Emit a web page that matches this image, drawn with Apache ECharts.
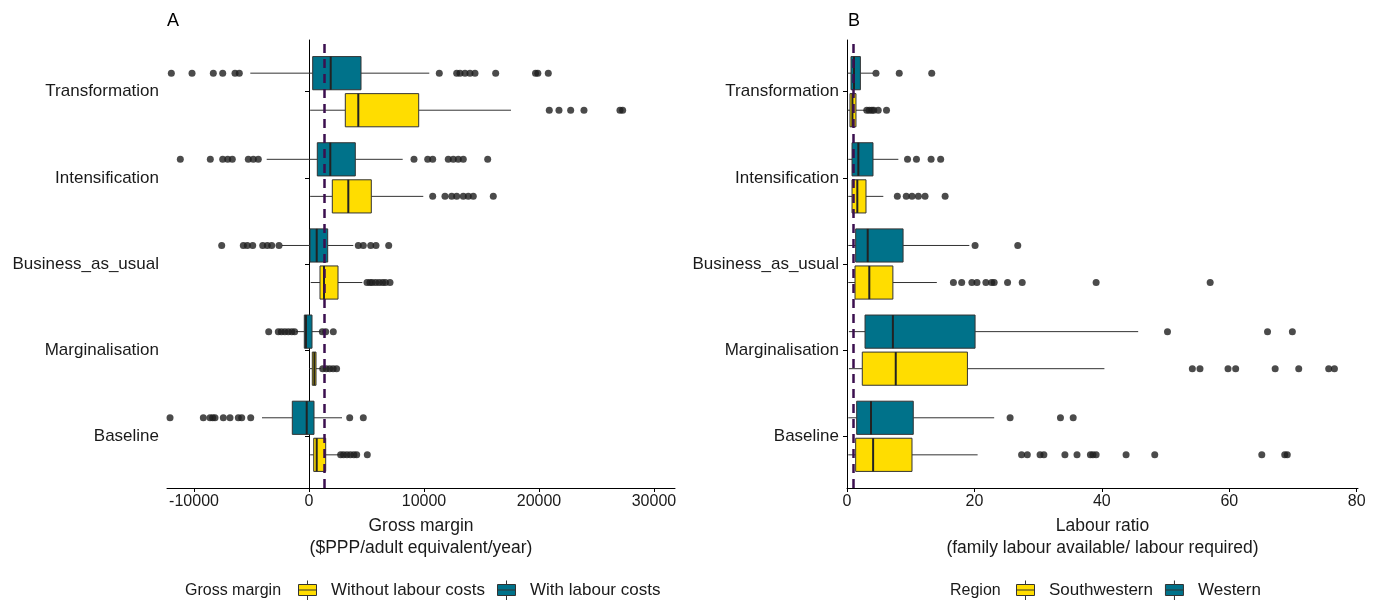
<!DOCTYPE html>
<html>
<head>
<meta charset="utf-8">
<script src="https://cdn.jsdelivr.net/npm/echarts@6/dist/echarts.min.js"></script>
<style>
html,body{margin:0;padding:0;background:#fff;}
#chart{width:1378px;height:600px;}
</style>
</head>
<body>
<div id="chart"></div>
<script>
// ---------- DATA ----------
const categories = ['Baseline', 'Marginalisation', 'Business_as_usual', 'Intensification', 'Transformation'];

const gmTicks = [-10000, 0, 10000, 20000, 30000];
const lrTicks = [0, 20, 40, 60, 80];

// Panel A: Gross margin  [lower whisker, Q1, median, Q3, upper whisker] per category
const gmWithout = [
  [100, 409, 670, 1452, 2696],
  [0, 287, 461, 609, 1043],
  [150, 957, 1304, 2522, 4635],
  [100, 2026, 3418, 5418, 9939],
  [100, 3157, 4287, 9539, 17566]
];
const gmWith = [
  [-4087, -1452, -200, 435, 2870],
  [-1150, -409, -261, 261, 1017],
  [-2350, 87, 670, 1626, 3852],
  [-3679, 722, 1852, 4026, 8148],
  [-5105, 320, 1887, 4522, 10461]
];
const gmWithoutOut = [
  [2750, 3000, 3300, 3600, 3900, 4148, 5070],
  [1191, 1500, 1800, 2100, 2400],
  [5044, 5300, 5500, 5800, 6100, 6400, 6650, 7043],
  [10757, 11826, 12409, 12844, 13418, 13853, 14287, 16027],
  [20897, 21740, 22757, 23914, 27044, 27279]
];
const gmWithOut = [
  [-12087, -9191, -8609, -8374, -8174, -7452, -6870, -6148, -5852, -5070, 3539, 4722],
  [-3505, -2670, -2400, -2100, -1800, -1500, -1250, 1157, 1452, 2113],
  [-7592, -5713, -5365, -4896, -4026, -3626, -3244, -2609, 4287, 4722, 5365, 5826, 6931],
  [-11192, -8583, -7505, -7070, -6670, -5278, -4843, -4409, 9131, 10322, 10757, 12113, 12548, 12983, 13418, 15540],
  [-11974, -10174, -8322, -7505, -6435, -6061, 11331, 12844, 13131, 13566, 14000, 14435, 16235, 19700, 19900, 20810]
];
const gmRef = 1330;

// Panel B: Labour ratio
const lrSouthwestern = [
  [0.2, 1.36, 4.1, 10.2, 20.5],
  [0.3, 2.4, 7.65, 18.9, 40.4],
  [0.2, 1.26, 3.5, 7.2, 14.1],
  [0.2, 0.79, 1.62, 2.98, 5.7],
  [0.1, 0.47, 0.85, 1.41, 3.0]
];
const lrWestern = [
  [0.2, 1.52, 3.77, 10.4, 23.1],
  [0.3, 2.83, 7.2, 20.1, 45.7],
  [0.2, 1.36, 3.25, 8.8, 19.2],
  [0.2, 0.79, 1.78, 4.08, 8.06],
  [0.1, 0.63, 1.1, 2.1, 4.1]
];
const lrSouthwesternOut = [
  [27.4, 28.3, 30.3, 30.9, 34.2, 36.1, 38.2, 38.6, 39.1, 43.8, 48.3, 65.1, 68.7, 69.1],
  [54.2, 55.4, 59.8, 61.0, 67.2, 70.9, 75.6, 76.5],
  [16.7, 18.0, 19.6, 20.4, 21.8, 22.7, 23.1, 25.2, 27.5, 39.1, 57.0],
  [7.9, 9.3, 10.2, 11.2, 12.25, 15.4],
  [3.1, 3.5, 3.9, 4.2, 4.9, 6.2]
];
const lrWesternOut = [
  [25.6, 33.5, 35.5],
  [50.3, 66.0, 69.9],
  [20.1, 26.8],
  [9.5, 10.9, 13.2, 14.7],
  [4.55, 8.2, 13.3]
];
const lrRef = 1;

// ---------- STYLE ----------
const YELLOW = '#FFDD00';
const TEAL = '#00728A';
const EDGE = '#333333';
const TEXT = '#1a1a1a';
const FONT = 'Liberation Sans, Arial, sans-serif';
const OFFSET = 0.215;
const BOX_H = 0.385;

function boxData(stats, off) {
  return stats.map((s, i) => [i + 1 + off].concat(s));
}
function outData(outs, off) {
  const r = [];
  outs.forEach((arr, i) => arr.forEach(v => r.push([v, i + 1 + off])));
  return r;
}
function makeRender(color) {
  return function (params, api) {
    const y = api.value(0);
    const pLo = api.coord([api.value(1), y]);
    const pQ1 = api.coord([api.value(2), y]);
    const pMed = api.coord([api.value(3), y]);
    const pQ3 = api.coord([api.value(4), y]);
    const pHi = api.coord([api.value(5), y]);
    const h = api.size([0, BOX_H])[1];
    const ls = { stroke: EDGE, lineWidth: 1 };
    return {
      type: 'group',
      children: [
        { type: 'line', shape: { x1: pLo[0], y1: pLo[1], x2: pQ1[0], y2: pQ1[1] }, style: ls },
        { type: 'line', shape: { x1: pQ3[0], y1: pQ3[1], x2: pHi[0], y2: pHi[1] }, style: ls },
        { type: 'rect', shape: { x: pQ1[0], y: pQ1[1] - h / 2, width: pQ3[0] - pQ1[0], height: h },
          style: { fill: color, stroke: EDGE, lineWidth: 1 } },
        { type: 'line', shape: { x1: pMed[0], y1: pMed[1] - h / 2, x2: pMed[0], y2: pMed[1] + h / 2 },
          style: { stroke: '#222', lineWidth: 2 } }
      ]
    };
  };
}

const ICON = 'path://M0,4 L18,4 L18,15 L0,15 Z M0,9.5 L18,9.5 M9,0 L9,4 M9,15 L9,20';

function yAxisDef(gi) {
  return {
    type: 'value', gridIndex: gi, min: 0.4, max: 5.6,
    axisLine: { show: true, lineStyle: { color: '#000', width: 1 } },
    axisTick: { show: true, length: 4, customValues: [1, 2, 3, 4, 5], lineStyle: { color: '#000' } },
    axisLabel: { customValues: [1, 2, 3, 4, 5], formatter: v => categories[Math.round(v) - 1],
      color: TEXT, fontSize: 17, fontFamily: FONT, margin: 8 },
    splitLine: { show: false }
  };
}
function xAxisDef(gi, min, max, ticks, name) {
  return {
    type: 'value', gridIndex: gi, min: min, max: max,
    name: name, nameLocation: 'middle', nameGap: 23,
    nameTextStyle: { color: TEXT, fontSize: 17.5, fontFamily: FONT, lineHeight: 22 },
    axisLine: { show: true, onZero: false, lineStyle: { color: '#000', width: 1 } },
    axisTick: { show: true, length: 4, customValues: ticks, lineStyle: { color: '#000' } },
    axisLabel: { customValues: ticks, formatter: v => String(v), color: TEXT, fontSize: 16, fontFamily: FONT, margin: 6 },
    splitLine: { show: false }
  };
}

function panelSeries(gi, nameY, statsY, outY, nameT, statsT, outT, refV, zeroLine) {
  const s = [];
  s.push({
    type: 'custom', name: nameY, xAxisIndex: gi, yAxisIndex: gi,
    itemStyle: { color: YELLOW, borderColor: EDGE, borderWidth: 1 },
    renderItem: makeRender(YELLOW), encode: { x: [1, 2, 3, 4, 5], y: 0 },
    data: boxData(statsY, -OFFSET), z: 3,
    markLine: zeroLine ? {
      silent: true, symbol: 'none', label: { show: false }, z: 1,
      lineStyle: { color: '#000', type: 'solid', width: 1 },
      data: [{ xAxis: 0 }]
    } : undefined
  });
  s.push({
    type: 'custom', name: nameT, xAxisIndex: gi, yAxisIndex: gi,
    itemStyle: { color: TEAL, borderColor: EDGE, borderWidth: 1 },
    renderItem: makeRender(TEAL), encode: { x: [1, 2, 3, 4, 5], y: 0 },
    data: boxData(statsT, OFFSET), z: 3
  });
  s.push({
    type: 'scatter', name: nameY + ' outliers', xAxisIndex: gi, yAxisIndex: gi,
    symbol: 'circle', symbolSize: 7, itemStyle: { color: '#1e1e1e' },
    data: outData(outY, -OFFSET), z: 4, silent: true
  });
  s.push({
    type: 'scatter', name: nameT + ' outliers', xAxisIndex: gi, yAxisIndex: gi,
    symbol: 'circle', symbolSize: 7, itemStyle: { color: '#1e1e1e' },
    data: outData(outT, OFFSET), z: 4, silent: true,
    markLine: {
      silent: true, symbol: 'none', label: { show: false }, z: 10,
      lineStyle: { color: '#3b0f4f', type: [9, 6], width: 2.5 },
      data: [{ xAxis: refV }]
    }
  });
  return s;
}

function legendDef(left, names, colors) {
  return {
    left: left, top: 575, orient: 'horizontal', itemWidth: 19, itemHeight: 20, itemGap: 12,
    selectedMode: false,
    textStyle: { fontSize: 17, color: TEXT, fontFamily: FONT, padding: [0, 0, 0, 9] },
    data: names.map((n, i) => ({ name: n, icon: ICON,
      itemStyle: { color: colors[i], borderColor: EDGE, borderWidth: 1 } }))
  };
}

const chart = echarts.init(document.getElementById('chart'), null, { renderer: 'canvas' });
const option = {
  backgroundColor: '#fff',
  animation: false,
  textStyle: { fontFamily: FONT },
  grid: [
    { left: 167, top: 40, width: 508, height: 448 },
    { left: 847, top: 40, width: 511, height: 448 }
  ],
  xAxis: [
    xAxisDef(0, -12350, 31830, gmTicks, 'Gross margin\n($PPP/adult equivalent/year)'),
    xAxisDef(1, 0, 80.2, lrTicks, 'Labour ratio\n(family labour available/ labour required)')
  ],
  yAxis: [yAxisDef(0), yAxisDef(1)],
  title: [
    { text: 'A', left: 162, top: 7, textStyle: { fontSize: 18, fontWeight: 'normal', color: '#000', fontFamily: FONT } },
    { text: 'B', left: 843, top: 7, textStyle: { fontSize: 18, fontWeight: 'normal', color: '#000', fontFamily: FONT } },
    { text: 'Gross margin', left: 180, top: 578, textStyle: { fontSize: 16, fontWeight: 'normal', color: TEXT, fontFamily: FONT } },
    { text: 'Region', left: 945, top: 578, textStyle: { fontSize: 16, fontWeight: 'normal', color: TEXT, fontFamily: FONT } }
  ],
  legend: [
    legendDef(293, ['Without labour costs', 'With labour costs'], [YELLOW, TEAL]),
    legendDef(1011, ['Southwestern', 'Western'], [YELLOW, TEAL])
  ],
  series: [].concat(
    panelSeries(0, 'Without labour costs', gmWithout, gmWithoutOut, 'With labour costs', gmWith, gmWithOut, gmRef, true),
    panelSeries(1, 'Southwestern', lrSouthwestern, lrSouthwesternOut, 'Western', lrWestern, lrWesternOut, lrRef, false)
  )
};
chart.setOption(option);
</script>
</body>
</html>
